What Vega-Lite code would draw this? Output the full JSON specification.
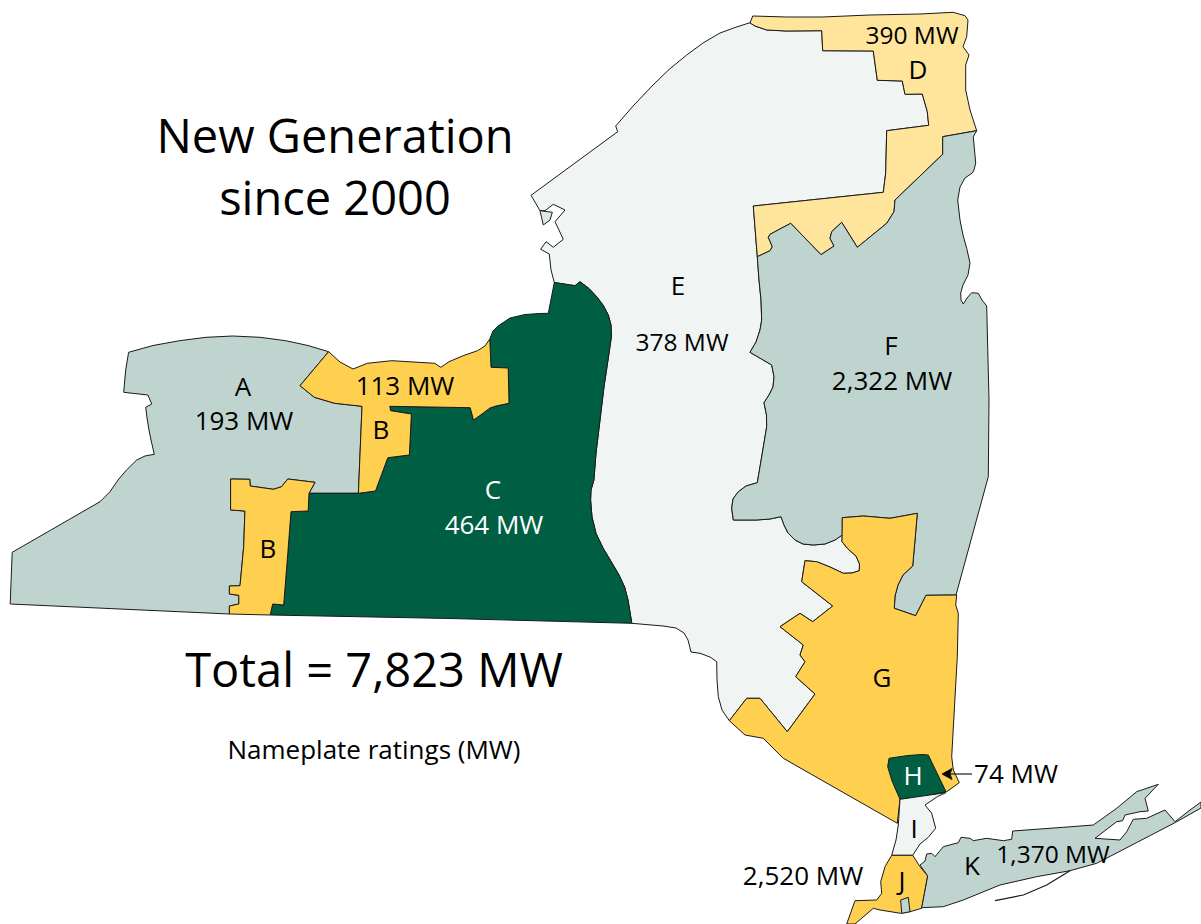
{"$schema":"https://vega.github.io/schema/vega-lite/v6.json","width":1201,"height":924,"padding":0,"autosize":"none","background":"white","config":{"view":{"stroke":null}},"projection":{"type":"identity","scale":1,"translate":[0,0]},"layer":[{"data":{"values":[
{"type":"Feature","properties":{"zone":"E"},"geometry":{"type":"Polygon","coordinates":[[[750,22.7],[735,27.5],[720,33],[703,43],[686.7,55],[669,69.5],[653,85],[634,105],[615.7,126],[617.7,131.7],[531,195.3],[540,210.7],[545,210.7],[553.3,204.3],[565,210],[555,221.7],[563.3,239.3],[553.3,247.3],[546,241.7],[540.7,249.3],[549.3,254],[551,270],[554.3,282.5],[575,285.7],[580,281.7],[589,288.5],[596.7,296.7],[603,305],[608.3,315],[611,325],[611.4,336.7],[608,360],[604,386.7],[600,420],[596,453],[593.9,480],[591,490],[590.6,500],[592,517],[596,533.3],[603,548],[612.2,563.3],[619,575],[624.5,586.7],[628,600],[631.8,623.3],[663,626],[676,628],[684,633],[688,640],[691,652],[700,653.3],[710,657],[716.7,661.7],[717,680],[718.3,696.7],[722,710],[729.3,720.7],[746.7,698.3],[760,698.3],[787.3,731.7],[815,694],[795.7,676.7],[805,661.7],[800,655],[803.3,645],[780,626.7],[800,613.3],[812.7,621.7],[832.7,606],[801.7,581.7],[805,560.7],[816.7,561.7],[830,567],[843.3,573.3],[852,573],[859.3,570.7],[859.5,564],[856,556],[848,549],[842,541.7],[842.3,535],[835,540],[825,544],[813.3,545],[803,544],[795,540],[788,533],[784,525],[781,516.7],[770,519],[756.7,520],[733.3,520],[731.7,508.3],[733,499],[738,492],[746,486],[757.3,482.7],[762,455],[766.7,426.7],[766.5,415],[764,402.7],[769,395],[773,387],[774,376.7],[771.7,365],[750,352.3],[756,342],[760,330],[761.7,320],[761,300],[759,280],[757.3,256.7],[753.3,206],[883.3,192.3],[885.7,173],[886.7,130.7],[928.7,125.3],[927.3,111.7],[922.3,94],[905,94.3],[902.3,81],[877.3,80.3],[873.3,51],[822.7,50.7],[821.7,30.7],[786.7,31],[766.7,30],[755,26],[750,22.7]]]}},
{"type":"Feature","properties":{"zone":"D"},"geometry":{"type":"Polygon","coordinates":[[[750,23],[752.7,16],[787,17],[822,17],[870,15],[920,14],[953,12.3],[965,15.7],[968,20],[966.7,36.7],[963,46.7],[969,55],[965.7,65],[965.7,90],[970,110],[976.7,130.7],[942.7,136.7],[942.7,154.3],[895,200],[894,211.7],[886.7,223.3],[857.3,247.3],[841.7,222.3],[831.7,231.7],[830,238.3],[834,246],[821,254.7],[790.7,223.3],[770,234.3],[768.3,237.3],[772.3,246.7],[770,250.7],[757.3,256.7],[753.3,206],[883.3,192.3],[885.7,173],[886.7,130.7],[928.7,125.3],[927.3,111.7],[922.3,94],[905,94.3],[902.3,81],[877.3,80.3],[873.3,51],[822.7,50.7],[821.7,30.7],[786.7,31],[766.7,30],[755,26],[750,23]]]}},
{"type":"Feature","properties":{"zone":"F"},"geometry":{"type":"Polygon","coordinates":[[[757.3,256.7],[770,250.7],[772.3,246.7],[768.3,237.3],[770,234.3],[790.7,223.3],[821,254.7],[834,246],[830,238.3],[831.7,231.7],[841.7,222.3],[857.3,247.3],[886.7,223.3],[894,211.7],[895,200],[942.7,154.3],[942.7,136.7],[976.7,130.7],[973.3,136.7],[975.7,163],[974,170],[972.3,173],[965,178],[960,187],[957.7,200],[960,220],[963,235],[966.7,248.3],[970,263],[968,275],[963,285],[960.7,293],[961,300],[963.3,304],[967,298],[971.7,292.7],[978.3,293.3],[982,300],[986.7,306],[989,400],[988.3,476.7],[956,595],[926,595.3],[915.7,615.7],[894.3,608.3],[895,596],[898,585],[903,575],[912.7,566],[915,540],[917.3,513.3],[890,518.3],[863.3,516],[842.3,517.7],[842.3,535],[835,540],[825,544],[813.3,545],[803,544],[795,540],[788,533],[784,525],[781,516.7],[770,519],[756.7,520],[733.3,520],[731.7,508.3],[733,499],[738,492],[746,486],[757.3,482.7],[762,455],[766.7,426.7],[766.5,415],[764,402.7],[769,395],[773,387],[774,376.7],[771.7,365],[750,352.3],[756,342],[760,330],[761.7,320],[761,300],[759,280],[757.3,256.7]]]}},
{"type":"Feature","properties":{"zone":"A"},"geometry":{"type":"Polygon","coordinates":[[[128.6,352.3],[153,345.5],[179.6,340.7],[206,337.3],[232.7,336],[260,337.3],[285.7,340.7],[308,345.5],[328.6,351.7],[300,385.7],[314.3,397.3],[334.7,403.3],[362,406.3],[358.4,493.3],[309,493.3],[315,482.3],[287.8,479],[281.6,486.7],[273.5,489.3],[250.2,486],[249.8,479.3],[230.6,479],[230.6,510],[244.9,511],[243.7,546.7],[240,585.7],[229.4,586],[229.4,594],[238.8,595.3],[238.8,604],[229.4,606],[229.4,614],[10.2,604],[12.2,552.3],[100,501.7],[110,491.7],[118,480],[126.5,470],[136.7,460],[145,456],[154.3,454.3],[151,440],[149,430],[147,418],[145.7,407.3],[151.8,404],[147.8,395],[123.7,392.3],[125.7,370],[128.6,352.3]]]}},
{"type":"Feature","properties":{"zone":"C"},"geometry":{"type":"Polygon","coordinates":[[[489.8,339],[493,331],[498,326],[510,318],[525,314.5],[540,313.5],[548.3,313.3],[554.3,282.5],[575,285.7],[580,281.7],[589,288.5],[596.7,296.7],[603,305],[608.3,315],[611,325],[611.4,336.7],[608,360],[604,386.7],[600,420],[596,453],[593.9,480],[591,490],[590.6,500],[592,517],[596,533.3],[603,548],[612.2,563.3],[619,575],[624.5,586.7],[628,600],[631.8,623.3],[450,618.5],[270.2,615],[272.7,604],[283.7,605],[287.8,553.3],[291,511.7],[308.2,511],[309,493.3],[358.4,493.3],[375.5,491],[387.8,457.7],[409.4,455],[411.4,414],[390.6,410.7],[389.8,406.3],[470.2,407.7],[473.5,420],[482,414],[490,408],[496,406],[509,403.3],[508.2,368],[491,367.3],[489.8,339]]]}},
{"type":"Feature","properties":{"zone":"B"},"geometry":{"type":"Polygon","coordinates":[[[328.6,351.7],[340,362],[353,369],[367.3,363.3],[391.8,360.7],[434.7,363.3],[440.8,367.3],[449,361.7],[465,355],[477.6,350.7],[485,346],[489.8,339],[491,367.3],[508.2,368],[509,403.3],[496,406],[490,408],[482,414],[473.5,420],[470.2,407.7],[389.8,406.3],[390.6,410.7],[411.4,414],[409.4,455],[387.8,457.7],[375.5,491],[358.4,493.3],[362,406.3],[334.7,403.3],[314.3,397.3],[300,385.7],[328.6,351.7]]]}},
{"type":"Feature","properties":{"zone":"B"},"geometry":{"type":"Polygon","coordinates":[[[315,482.3],[309,493.3],[308.2,511],[291,511.7],[287.8,553.3],[283.7,605],[272.7,604],[270.2,615],[229.4,614],[229.4,606],[238.8,604],[238.8,595.3],[229.4,594],[229.4,586],[240,585.7],[243.7,546.7],[244.9,511],[230.6,510],[230.6,479],[249.8,479.3],[250.2,486],[273.5,489.3],[281.6,486.7],[287.8,479],[315,482.3]]]}},
{"type":"Feature","properties":{"zone":"G"},"geometry":{"type":"Polygon","coordinates":[[[842.3,517.7],[863.3,516],[890,518.3],[917.3,513.3],[915,540],[912.7,566],[903,575],[898,585],[895,596],[894.3,608.3],[915.7,615.7],[926,595.3],[956.7,595],[955.7,605],[958.3,613.3],[957.3,656.7],[951.7,756.7],[953.3,770],[959.3,782.7],[946.7,791.7],[900,799],[897.3,823.3],[783.3,758.3],[763.3,738.3],[745,735],[729.3,720.7],[746.7,698.3],[760,698.3],[787.3,731.7],[815,694],[795.7,676.7],[805,661.7],[800,655],[803.3,645],[780,626.7],[800,613.3],[812.7,621.7],[832.7,606],[801.7,581.7],[805,560.7],[816.7,561.7],[830,567],[843.3,573.3],[852,573],[859.3,570.7],[859.5,564],[856,556],[848,549],[842,541.7],[842.3,517.7]]]}},
{"type":"Feature","properties":{"zone":"H"},"geometry":{"type":"Polygon","coordinates":[[[889,758.3],[908,755.5],[922,754.5],[928.3,755],[946,791.7],[922,796.5],[900,799.3],[895,788],[891.7,780],[887.7,766.7],[889,758.3]]]}},
{"type":"Feature","properties":{"zone":"I"},"geometry":{"type":"Polygon","coordinates":[[[900,799.3],[945.7,792.7],[937.3,796.7],[925,805],[931.7,813.3],[935.7,828.3],[928.3,837.3],[920,844],[912.7,855.3],[891.7,855.3],[896,840],[898.3,825],[900,799.3]]]}},
{"type":"Feature","properties":{"zone":"J"},"geometry":{"type":"Polygon","coordinates":[[[891.7,855.3],[912.7,855.3],[920,866.7],[927.7,876],[921.7,908.3],[910,911.7],[900.7,913.3],[880,910],[873.3,908.3],[855,924],[846.7,924],[855,900.7],[876.7,900],[881.7,893.3],[880.7,881.7],[885,866.7],[891.7,855.3]]]}},
{"type":"Feature","properties":{"zone":"K"},"geometry":{"type":"Polygon","coordinates":[[[921.7,907.7],[927.7,876],[920,865],[925,861],[926.7,854],[931.7,853.3],[935,856.7],[943.3,846.7],[958.3,842.7],[961,837.3],[970,838.3],[973.3,840.7],[986.7,838.3],[1003.3,840.7],[1011.7,839.3],[1012.7,831],[1063.3,827.3],[1093.3,825],[1116.7,808.3],[1136.7,791.7],[1158.3,784.3],[1145,798.3],[1148.3,811],[1140,811.7],[1125,815],[1122.7,820.7],[1116.7,821.7],[1095,838.3],[1120,840],[1126.7,831.7],[1133.3,819.3],[1146.7,818.3],[1165,810],[1175,821.7],[1190,810],[1201,802],[1201,808],[1175.7,822.3],[1096.7,863.3],[1070,870.7],[1036.7,876.7],[1000,885],[963.3,900],[943.3,906.7],[921.7,907.7]]]}},
{"type":"Feature","properties":{"zone":"K"},"geometry":{"type":"Polygon","coordinates":[[[900.7,900],[908.3,897.3],[910,911.7],[901.7,913.3],[900.7,900]]]}},
{"type":"Feature","properties":{"zone":"Bay"},"geometry":{"type":"Polygon","coordinates":[[[540,210.7],[552.3,212.3],[550,220],[543.3,225],[540,210.7]]]}},
{"type":"Feature","properties":{"zone":"Arrow"},"geometry":{"type":"Polygon","coordinates":[[[942,774],[952,768.5],[950,774],[952,779.5],[942,774]]]}}
]},"mark":{"type":"geoshape","stroke":"#1a1a1a","strokeWidth":1},"encoding":{"color":{"field":"properties.zone","type":"nominal","legend":null,"scale":{"domain":["A","B","C","D","E","F","G","H","I","J","K","Bay","Arrow"],"range":["#BFD4CF","#FFD04F","#005F43","#FFE49B","#F0F4F3","#BFD4CF","#FFD04F","#005F43","#F0F4F3","#FFD04F","#BFD4CF","#DDE9E6","#000000"]}}}},
{"data":{"values":[
{"type":"Feature","properties":{"name":"Fire Island"},"geometry":{"type":"LineString","coordinates":[[995,900.7],[1023.3,895],[1046.7,885],[1070,870.7]]}},
{"type":"Feature","properties":{"name":"Arrow shaft"},"geometry":{"type":"LineString","coordinates":[[950,774],[972,774]]}}
]},"mark":{"type":"geoshape","filled":false,"stroke":"#1a1a1a","strokeWidth":1.2},"encoding":{}},
{"data":{"values":[{"label":"New Generation","lon":335,"lat":139},{"label":"since 2000","lon":335,"lat":201},{"label":"Total = 7,823 MW","lon":374,"lat":673}]},"mark":{"type":"text","font":"Open Sans","fontSize":47,"baseline":"middle","align":"center","color":"#000000"},"encoding":{"longitude":{"field":"lon","type":"quantitative"},"latitude":{"field":"lat","type":"quantitative"},"text":{"field":"label"}}},
{"data":{"values":[{"label":"Nameplate ratings (MW)","lon":374,"lat":751},{"label":"A","lon":243,"lat":388},{"label":"193 MW","lon":244,"lat":422},{"label":"113 MW","lon":405,"lat":387},{"label":"B","lon":381,"lat":431},{"label":"B","lon":268,"lat":550},{"label":"E","lon":678,"lat":287},{"label":"F","lon":891,"lat":347},{"label":"2,322 MW","lon":892,"lat":382},{"label":"D","lon":918,"lat":71},{"label":"G","lon":882,"lat":679},{"label":"74 MW","lon":1016,"lat":775},{"label":"I","lon":914,"lat":830},{"label":"2,520 MW","lon":803,"lat":877},{"label":"J","lon":902,"lat":882},{"label":"K","lon":972,"lat":867}]},"mark":{"type":"text","font":"Open Sans","fontSize":26,"baseline":"middle","align":"center","color":"#000000"},"encoding":{"longitude":{"field":"lon","type":"quantitative"},"latitude":{"field":"lat","type":"quantitative"},"text":{"field":"label"}}},
{"data":{"values":[{"label":"378 MW","lon":682,"lat":344},{"label":"390 MW","lon":912,"lat":37},{"label":"1,370 MW","lon":1053,"lat":856}]},"mark":{"type":"text","font":"Open Sans","fontSize":24.5,"baseline":"middle","align":"center","color":"#000000"},"encoding":{"longitude":{"field":"lon","type":"quantitative"},"latitude":{"field":"lat","type":"quantitative"},"text":{"field":"label"}}},
{"data":{"values":[{"label":"C","lon":493,"lat":491},{"label":"464 MW","lon":494,"lat":526},{"label":"H","lon":913,"lat":777}]},"mark":{"type":"text","font":"Open Sans","fontSize":26,"baseline":"middle","align":"center","color":"#FFFFFF"},"encoding":{"longitude":{"field":"lon","type":"quantitative"},"latitude":{"field":"lat","type":"quantitative"},"text":{"field":"label"}}}
]}
